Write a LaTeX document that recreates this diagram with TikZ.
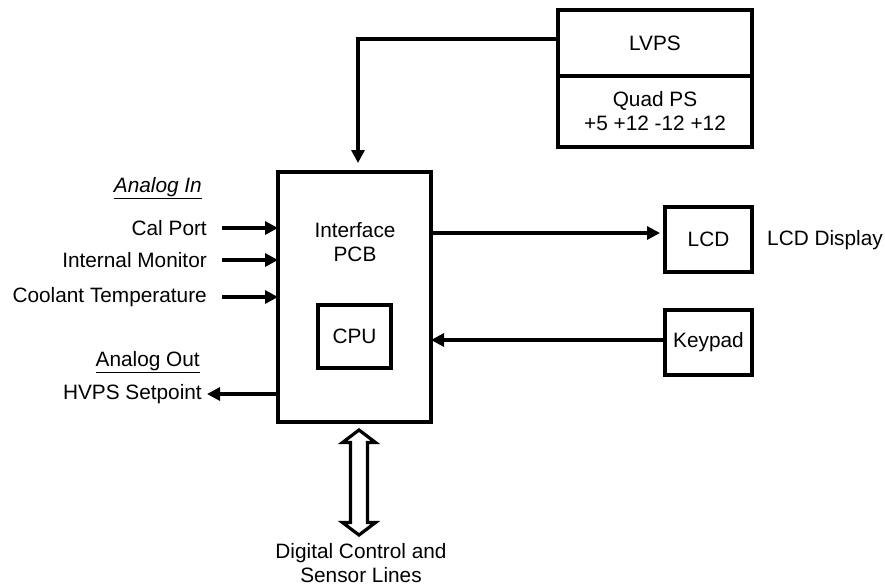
\documentclass[tikz,border=0pt]{standalone}
\usepackage{fontspec}
\setmainfont{Liberation Sans}
\usetikzlibrary{arrows.meta,calc}
\begin{document}
\begin{tikzpicture}[x=1pt,y=-1pt,
  every node/.style={font=\fontsize{20.8}{24}\selectfont, align=center},
  blk/.style={draw, line width=3.4pt, inner sep=0pt, outer sep=0pt},
  lbl/.style={inner sep=0pt},
  arr/.style={line width=3.2pt, -{Triangle[length=13pt,width=13pt]}},
  ln/.style={line width=3.2pt}]
\useasboundingbox (0,0) rectangle (885,587);
% blocks
\node[blk, minimum width=153pt, minimum height=250pt] (pcb) at (354.5,297) {};
\node[lbl] (pcbtxt) at (355,242) {Interface\\PCB};
\node[blk, minimum width=73pt, minimum height=63pt] (cpu) at (354.5,336.5) {CPU};
\node[blk, minimum width=194pt, minimum height=66pt] (lvps) at (655,43) {LVPS};
\node[blk, minimum width=194pt, minimum height=71pt, anchor=north] (quad) at (lvps.south) {Quad PS\\+5 +12 -12 +12};
\node[blk, minimum width=87pt, minimum height=65pt] (lcd) at (708.5,239.5) {LCD};
\node[blk, minimum width=87pt, minimum height=65pt] (key) at (708.5,342.5) {Keypad};
\node[lbl, anchor=west] (lcdd) at (767,240) {LCD Display};
% LVPS to PCB
\coordinate (drop) at (358,163);
\draw[arr] ([yshift=4pt]lvps.west) -| (drop);
% LCD and keypad
\draw[arr] (pcb.east |- 0,233) -- ([xshift=-5pt]lcd.west |- 0,233);
\draw[arr] (key.west |- 0,340) -- (pcb.east |- 0,340);
% left labels
\node[lbl, anchor=east] (ain) at (202,188) {\underline{\itshape Analog In}};
\node[lbl, anchor=east] (cal) at (207,228) {Cal Port};
\node[lbl, anchor=east] (mon) at (207,260) {Internal Monitor};
\node[lbl, anchor=east] (cool) at (207,297) {Coolant Temperature};
\node[lbl, anchor=east] (aout) at (200,362) {\underline{Analog Out}};
\node[lbl, anchor=east] (hv) at (202,394) {HVPS Setpoint};
\draw[arr] ([xshift=15pt]cal.east) -- (cal.east -| pcb.west);
\draw[arr] ([xshift=15pt]mon.east) -- (mon.east -| pcb.west);
\draw[arr] ([xshift=15pt]cool.east) -- (cool.east -| pcb.west);
\draw[arr] (hv.east -| pcb.west) -- ([xshift=5pt]hv.east);
% bus double arrow
\coordinate (bt) at ($(pcb.south)+(4.5,8)$);
\coordinate (bb) at ($(bt)+(0,105)$);
\draw[ln, fill=white, line join=miter]
  (bt) -- ++(16.5,12.5) -- ++(-8,0) -- ($(bb)+(8.5,-12.5)$) -- ++(8,0) -- (bb)
  -- ++(-16.5,-12.5) -- ++(8,0) -- ($(bt)+(-8.5,12.5)$) -- ++(-8,0) -- cycle;
\node[lbl] (dig) at (361,563) {Digital Control and\\Sensor Lines};
\end{tikzpicture}
\end{document}
